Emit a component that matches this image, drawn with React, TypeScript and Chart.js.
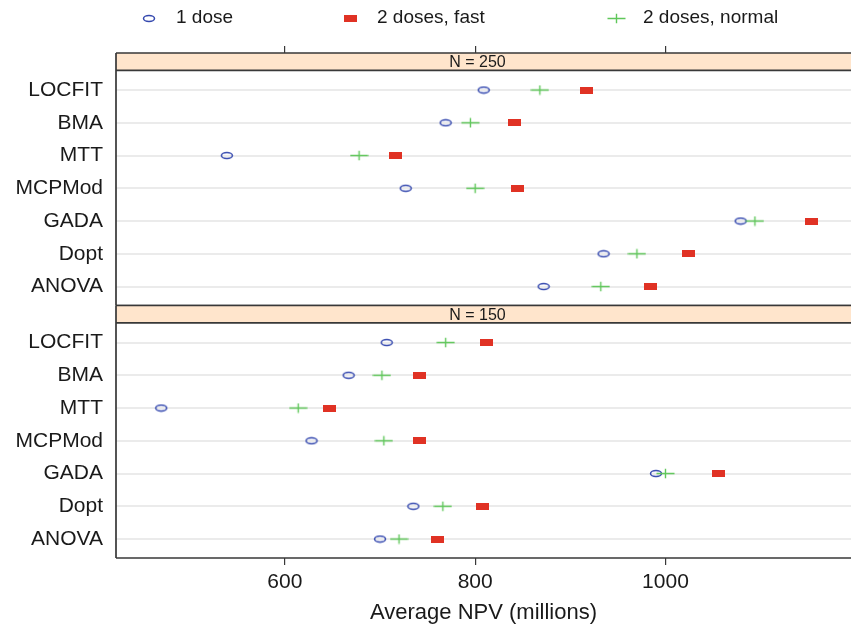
import React, { useEffect, useRef } from 'react';
import { Chart, registerables } from 'chart.js';

Chart.register(...registerables);

// Methods, listed top to bottom within each panel
const methods = ['LOCFIT', 'BMA', 'MTT', 'MCPMod', 'GADA', 'Dopt', 'ANOVA'];

// Average NPV (millions), N = 250
const n250OneDose = [809, 769, 539, 727, 1079, 935, 872];
const n250TwoFast = [917, 841, 716, 845, 1154, 1024, 984];
const n250TwoNormal = [868, 795, 678, 800, 1094, 970, 932];

// Average NPV (millions), N = 150
const n150OneDose = [707, 667, 470, 628, 990, 735, 700];
const n150TwoFast = [812, 741, 647, 741, 1056, 808, 760];
const n150TwoNormal = [769, 702, 614, 704, 1000, 766, 720];

const seriesLabels = ['1 dose', '2 doses, fast', '2 doses, normal'];
const panelLabels = ['N = 250', 'N = 150'];
const xTicks = [600, 800, 1000];
const X_MIN = 422.5;
const X_MAX = 1195;

const FONT = '"Liberation Sans", Arial, Helvetica, sans-serif';
const INK = '#1a1a1a';
const FRAME = '#383838';

function makeMarker(kind: 'ellipse' | 'rect' | 'plus'): HTMLCanvasElement {
  const c = document.createElement('canvas');
  const g = c.getContext('2d')!;
  if (kind === 'ellipse') {
    c.width = 14;
    c.height = 9;
    g.strokeStyle = '#3448ae';
    g.lineWidth = 1.5;
    g.beginPath();
    g.ellipse(7, 4.5, 5.5, 3, 0, 0, Math.PI * 2);
    g.stroke();
  } else if (kind === 'rect') {
    c.width = 13;
    c.height = 7;
    g.fillStyle = '#e03224';
    g.fillRect(0, 0, 13, 7);
  } else {
    c.width = 19;
    c.height = 11;
    g.strokeStyle = '#5fc75a';
    g.lineWidth = 1.4;
    g.beginPath();
    g.moveTo(0.5, 5.5);
    g.lineTo(18.5, 5.5);
    g.moveTo(9.5, 0.8);
    g.lineTo(9.5, 10.2);
    g.stroke();
  }
  return c;
}

// Column anchors (symbol centres) for the key above the panels
const keyColumns = [149, 350, 616];

const keyPlugin = {
  id: 'doseKey',
  afterDraw(chart: any) {
    const { ctx } = chart;
    const items = chart.data.datasets.filter((d: any) => d.yAxisID === 'y250');
    ctx.save();
    ctx.font = `19px ${FONT}`;
    ctx.fillStyle = INK;
    ctx.textBaseline = 'middle';
    ctx.textAlign = 'left';
    items.forEach((d: any, i: number) => {
      const cx = keyColumns[i];
      const cy = 18;
      const img = d.pointStyle as HTMLCanvasElement;
      ctx.drawImage(img, Math.round(cx - img.width / 2), Math.round(cy - img.height / 2));
      ctx.fillText(d.label, cx + 27, cy);
    });
    ctx.restore();
  },
};

const stripPlugin = {
  id: 'panelStrips',
  afterDatasetsDraw(chart: any) {
    const { ctx, chartArea } = chart;
    const left = chartArea.left;
    const right = chartArea.right + 4;
    ['y250', 'y150'].forEach((id, k) => {
      const s = chart.scales[id];
      const stripBottom = s.getPixelForValue(0.4);
      ctx.save();
      ctx.fillStyle = '#ffe5cc';
      ctx.fillRect(left, s.top, right - left, stripBottom - s.top);
      ctx.strokeStyle = FRAME;
      ctx.lineWidth = 1.7;
      ctx.beginPath();
      ctx.moveTo(left, s.top);
      ctx.lineTo(right, s.top);
      ctx.moveTo(left, stripBottom);
      ctx.lineTo(right, stripBottom);
      ctx.moveTo(left, s.bottom);
      ctx.lineTo(right, s.bottom);
      ctx.moveTo(left, s.top);
      ctx.lineTo(left, s.bottom);
      ctx.stroke();
      ctx.fillStyle = INK;
      ctx.font = `16px ${FONT}`;
      ctx.textAlign = 'center';
      ctx.textBaseline = 'middle';
      ctx.fillText(panelLabels[k], (chartArea.left + chartArea.right) / 2 - 6, (s.top + stripBottom) / 2 + 1);
      ctx.restore();
    });
  },
};

export default function App() {
  const ref = useRef<HTMLCanvasElement | null>(null);

  useEffect(() => {
    const markers = [makeMarker('ellipse'), makeMarker('rect'), makeMarker('plus')];
    const toPoints = (vals: number[]) => vals.map((v, i) => ({ x: v, y: i + 1 }));
    const panels: [string, number[][]][] = [
      ['y250', [n250OneDose, n250TwoFast, n250TwoNormal]],
      ['y150', [n150OneDose, n150TwoFast, n150TwoNormal]],
    ];
    const datasets: any[] = [];
    panels.forEach(([axis, series]) => {
      series.forEach((vals, j) => {
        datasets.push({
          label: seriesLabels[j],
          data: toPoints(vals),
          xAxisID: 'x',
          yAxisID: axis,
          pointStyle: markers[j],
          pointRadius: 6,
          showLine: false,
          order: 3 - j,
        });
      });
    });

    const rowTicks = (scale: any) => {
      scale.ticks = methods.map((_, i) => ({ value: i + 1 }));
    };
    const valueTicks = (scale: any) => {
      scale.ticks = xTicks.map((v) => ({ value: v }));
    };
    const yScale = (weight: number) => ({
      type: 'linear',
      position: 'left',
      stack: 'panels',
      stackWeight: 1,
      weight,
      reverse: true,
      min: -0.13,
      max: 7.58,
      afterBuildTicks: rowTicks,
      afterFit: (s: any) => {
        s.width = 116;
      },
      grid: { color: '#ebebeb', lineWidth: 2, drawTicks: false },
      border: { display: false },
      ticks: {
        callback: (v: any) => methods[Number(v) - 1] ?? '',
        font: { size: 21, family: FONT },
        color: INK,
        padding: 13,
        autoSkip: false,
      },
    });

    const chart = new Chart(ref.current!, {
      type: 'scatter',
      data: { datasets },
      plugins: [stripPlugin, keyPlugin],
      options: {
        animation: false,
        responsive: false,
        events: [],
        layout: { autoPadding: false, padding: { top: 35, left: 0, right: 0, bottom: 0 } },
        plugins: { legend: { display: false }, tooltip: { enabled: false } },
        scales: {
          x: {
            type: 'linear',
            position: 'bottom',
            min: X_MIN,
            max: X_MAX,
            afterBuildTicks: valueTicks,
            afterFit: (s: any) => {
              s.height = 69;
            },
            grid: { drawOnChartArea: false, drawTicks: true, tickLength: 7, color: FRAME, lineWidth: 1.2 },
            border: { display: false },
            ticks: {
              callback: (v: any) => String(v),
              font: { size: 21, family: FONT },
              color: INK,
              padding: 5,
              maxRotation: 0,
              autoSkip: false,
            },
            title: {
              display: true,
              text: 'Average NPV (millions)',
              font: { size: 22, family: FONT },
              color: INK,
              padding: { top: 0, bottom: 1 },
            },
          },
          x2: {
            type: 'linear',
            position: 'top',
            min: X_MIN,
            max: X_MAX,
            afterBuildTicks: valueTicks,
            afterFit: (s: any) => {
              s.height = 18;
            },
            grid: { drawOnChartArea: false, drawTicks: true, tickLength: 7, color: FRAME, lineWidth: 1.2 },
            border: { display: false },
            ticks: { display: false },
          },
          y150: yScale(0),
          y250: yScale(1),
        },
      } as any,
    });
    return () => chart.destroy();
  }, []);

  return (
    <div style={{ position: 'absolute', left: 0, top: 0, width: 851, height: 627, background: '#fff' }}>
      <canvas ref={ref} width={851} height={627} style={{ display: 'block' }} />
    </div>
  );
}
